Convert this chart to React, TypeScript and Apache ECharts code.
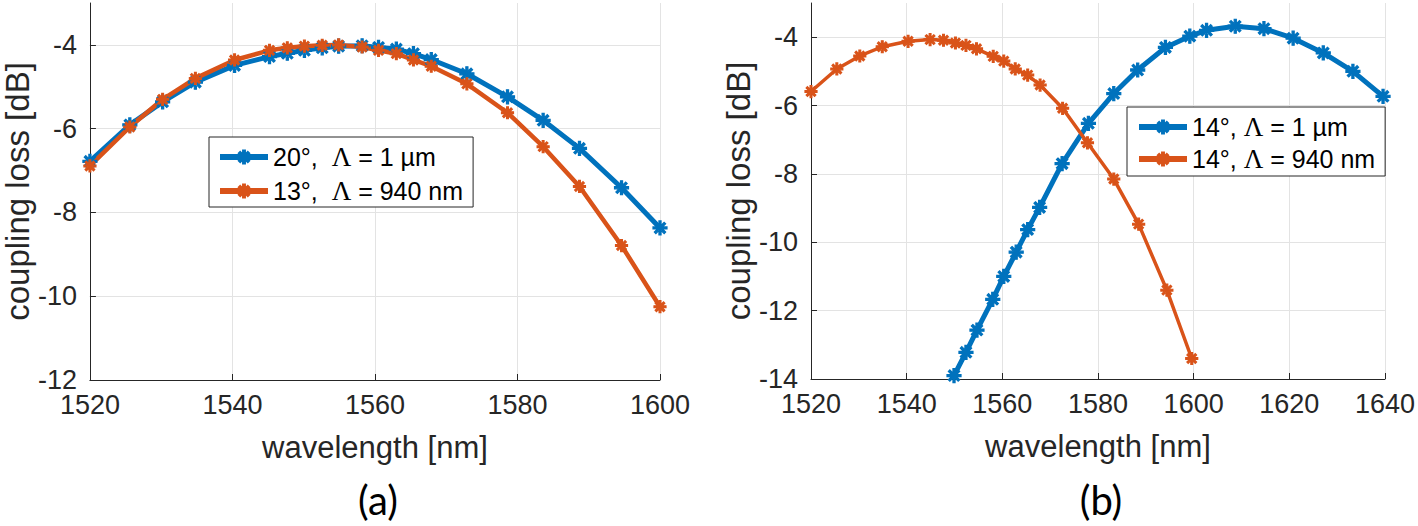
import React, { useEffect, useRef } from "react";
import * as echarts from "echarts";

// ---------- data ----------
// panel (a)
const wavelengthA = [1520, 1525.6, 1530.2, 1534.8, 1540.3, 1545.2, 1547.7, 1550.1, 1552.6, 1554.9, 1558.2, 1560.5, 1563.0, 1565.4, 1567.9, 1572.9, 1578.6, 1583.6, 1588.7, 1594.6, 1600];
const lossA20deg1um = [-6.78, -5.91, -5.36, -4.89, -4.49, -4.28, -4.2, -4.13, -4.07, -4.03, -4.02, -4.06, -4.1, -4.21, -4.35, -4.69, -5.24, -5.8, -6.47, -7.41, -8.37];
const lossA13deg940 = [-6.89, -5.96, -5.3, -4.8, -4.36, -4.13, -4.07, -4.03, -4.01, -4.0, -4.05, -4.13, -4.21, -4.36, -4.51, -4.93, -5.62, -6.43, -7.38, -8.79, -10.25];

// panel (b)
const wavelengthB1um = [1549.9, 1552.4, 1554.7, 1558.0, 1560.3, 1562.9, 1565.3, 1567.8, 1572.5, 1578.0, 1583.3, 1588.3, 1594.1, 1599.2, 1602.7, 1608.7, 1614.7, 1620.8, 1627.1, 1633.3, 1639.6];
const lossB14deg1um = [-13.9, -13.22, -12.57, -11.67, -11.0, -10.29, -9.63, -8.98, -7.7, -6.52, -5.65, -4.96, -4.3, -3.97, -3.8, -3.68, -3.75, -4.03, -4.46, -5.0, -5.73];
const wavelengthB940 = [1520, 1525.4, 1530.2, 1534.9, 1540.3, 1544.9, 1547.7, 1550.2, 1552.4, 1554.6, 1558.1, 1560.3, 1562.7, 1565.3, 1567.9, 1572.6, 1577.8, 1583.3, 1588.5, 1594.4, 1599.6];
const lossB14deg940 = [-5.59, -4.93, -4.55, -4.28, -4.12, -4.07, -4.09, -4.17, -4.24, -4.34, -4.56, -4.7, -4.93, -5.11, -5.4, -6.08, -7.09, -8.15, -9.47, -11.4, -13.4];

const seriesNamesA = ["20°,  Λ = 1 µm", "13°,  Λ = 940 nm"];
const seriesNamesB = ["14°, Λ = 1 µm", "14°, Λ = 940 nm"];
const panelLabels = ["(a)", "(b)"];
const xAxisTitle = "wavelength [nm]";
const yAxisTitle = "coupling loss [dB]";

// ---------- styles ----------
const BLUE = "#0072BD";
const ORANGE = "#D95319";
const AXIS = "#262626";
const GRID = "#e3e3e3";
const FONT = "Liberation Sans";
const STAR =
  "path://M0 8.5H20V11.5H0Z M8.5 0H11.5V20H8.5Z M4.06 1.94L18.06 15.94L15.94 18.06L1.94 4.06Z M15.94 1.94L18.06 4.06L4.06 18.06L1.94 15.94Z";

const zip = (xs: number[], ys: number[]) => xs.map((x, i) => [x, ys[i]]);

function xAxis(gridIndex: number, min: number, max: number) {
  return {
    gridIndex,
    type: "value",
    min,
    max,
    interval: 20,
    name: xAxisTitle,
    nameLocation: "middle",
    nameGap: 52,
    nameTextStyle: { fontSize: 31, color: AXIS, fontFamily: FONT },
    axisLine: { show: true, onZero: false, lineStyle: { color: AXIS, width: 1 } },
    axisTick: { show: true, inside: true, length: 6, lineStyle: { color: AXIS } },
    axisLabel: { fontSize: 27, color: AXIS, margin: 11, fontFamily: FONT, formatter: (v: number) => String(v) },
    splitLine: { show: true, lineStyle: { color: GRID, width: 1 } },
  };
}

function yAxis(gridIndex: number, min: number, max: number, nameGap: number) {
  return {
    gridIndex,
    type: "value",
    min,
    max,
    interval: 2,
    name: yAxisTitle,
    nameLocation: "middle",
    nameGap,
    nameTextStyle: { fontSize: 33, color: AXIS, fontFamily: FONT },
    axisLine: { show: true, onZero: false, lineStyle: { color: AXIS, width: 1 } },
    axisTick: { show: true, inside: true, length: 6, lineStyle: { color: AXIS } },
    axisLabel: { fontSize: 27, color: AXIS, margin: 13, showMaxLabel: false, fontFamily: FONT, formatter: (v: number) => String(v) },
    splitLine: { show: true, showMaxLine: false, lineStyle: { color: GRID, width: 1 } },
  };
}

function lineSeries(name: string, data: number[][], color: string, idx: number, width: number, size: number) {
  return {
    type: "line",
    name,
    xAxisIndex: idx,
    yAxisIndex: idx,
    data,
    symbol: STAR,
    symbolSize: size,
    showAllSymbol: true,
    lineStyle: { color, width },
    itemStyle: { color, borderColor: color, borderWidth: 1.2 },
    emphasis: { disabled: true },
  };
}

function legend(names: string[], left: number, top: number, padding: number[], gap: number) {
  return {
    data: names,
    orient: "vertical",
    left,
    top,
    padding,
    itemGap: gap,
    itemWidth: 48,
    itemHeight: 16,
    borderColor: AXIS,
    borderWidth: 1,
    borderRadius: 0,
    backgroundColor: "#fff",
    selectedMode: false,
    lineStyle: { width: 6 },
    formatter: (n: string) => n.replace("Λ", "{s|Λ}"),
    textStyle: {
      fontSize: 25,
      color: "#000",
      fontFamily: FONT,
      lineHeight: 30,
      rich: {
        s: { fontFamily: "Liberation Serif", fontSize: 27, color: "#000", lineHeight: 30 },
      },
    },
  };
}

export default function App() {
  const ref = useRef<HTMLDivElement>(null);
  useEffect(() => {
    if (!ref.current) return;
    const chart = echarts.init(ref.current, null, { renderer: "svg" });
    chart.setOption({
      animation: false,
      backgroundColor: "#fff",
      textStyle: { fontFamily: FONT, color: AXIS },
      grid: [
        { left: 87, top: 3, width: 573, height: 377 },
        { left: 811, top: 3, width: 576, height: 376 },
      ],
      xAxis: [xAxis(0, 1520, 1600), xAxis(1, 1520, 1640)],
      yAxis: [yAxis(0, -12, -3, 49), yAxis(1, -14, -3, 48)],
      legend: [
        legend(seriesNamesA, 209, 137, [5, 10, 1, 8], 4),
        legend(seriesNamesB, 1127, 107, [5, 10, 2, 9], 2),
      ],
      series: [
        lineSeries(seriesNamesA[0], zip(wavelengthA, lossA20deg1um), BLUE, 0, 5, 14),
        lineSeries(seriesNamesA[1], zip(wavelengthA, lossA13deg940), ORANGE, 0, 4.5, 12),
        lineSeries(seriesNamesB[0], zip(wavelengthB1um, lossB14deg1um), BLUE, 1, 5, 14),
        lineSeries(seriesNamesB[1], zip(wavelengthB940, lossB14deg940), ORANGE, 1, 3.5, 12),
      ],
      graphic: [
        {
          type: "text",
          x: 378,
          y: 500,
          style: { text: panelLabels[0], fontSize: 40, fontFamily: "Lato", fill: "#000", align: "center", verticalAlign: "middle" },
        },
        {
          type: "text",
          x: 1101,
          y: 500,
          style: { text: panelLabels[1], fontSize: 40, fontFamily: "Lato", fill: "#000", align: "center", verticalAlign: "middle" },
        },
      ],
    });
    return () => chart.dispose();
  }, []);
  return (
    <div
      ref={ref}
      style={{ position: "absolute", left: 0, top: 0, width: 1418, height: 526, background: "#fff" }}
    />
  );
}
